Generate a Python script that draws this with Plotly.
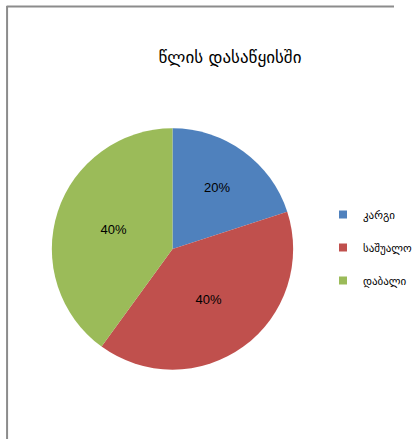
import plotly.graph_objects as go

labels = ["კარგი", "საშუალო", "დაბალი"]
values = [20, 40, 40]
colors = ["#4F81BD", "#C0504D", "#9BBB59"]
title_text = "წლის დასაწყისში"

W, H = 418, 439
CX = 183
fig = go.Figure()
fig.add_trace(go.Pie(
    labels=labels, values=values, sort=False, direction="clockwise", rotation=0,
    marker=dict(colors=colors, line=dict(width=0)),
    textinfo="percent", textposition="inside", insidetextorientation="horizontal",
    textfont=dict(family="Liberation Sans Narrow, Liberation Sans", size=13, color="black"),
    domain=dict(x=[(CX-128)/W, (CX+128)/W], y=[(H-249-128)/H, (H-249+128)/H]),
    showlegend=False, hoverinfo="label+percent",
))
for i, (lab, col) in enumerate(zip(labels, colors)):
    fig.add_trace(go.Scatter(
        x=[None], y=[None], mode="markers", name=lab, legendgroup=str(i),
        marker=dict(symbol="square", size=8, color=col), showlegend=True,
    ))

fig.update_layout(
    width=W, height=H, margin=dict(l=0, r=0, t=0, b=0),
    paper_bgcolor="white", plot_bgcolor="white",
    xaxis=dict(visible=False), yaxis=dict(visible=False),
    title=dict(text=title_text, x=230/W, xanchor="center", y=1-57/H, yanchor="middle",
               font=dict(family="DejaVu Sans", size=17, color="black")),
    legend=dict(x=343/W, xanchor="left", y=1-200/H, yanchor="top",
                font=dict(family="DejaVu Sans", size=11, color="black"),
                tracegroupgap=14, itemwidth=30, bgcolor="rgba(0,0,0,0)"),
    shapes=[
        dict(type="line", xref="paper", yref="paper", x0=7/W, x1=1, y0=1-6.5/H, y1=1-6.5/H,
             line=dict(color="#8C8C8C", width=2)),
        dict(type="line", xref="paper", yref="paper", x0=7.5/W, x1=7.5/W, y0=0, y1=1-6/H,
             line=dict(color="#8C8C8C", width=2)),
    ],
)
fig.write_html("out.html", config={"displayModeBar": False},
               post_script="document.body.style.margin='0';document.body.style.overflow='hidden';")
